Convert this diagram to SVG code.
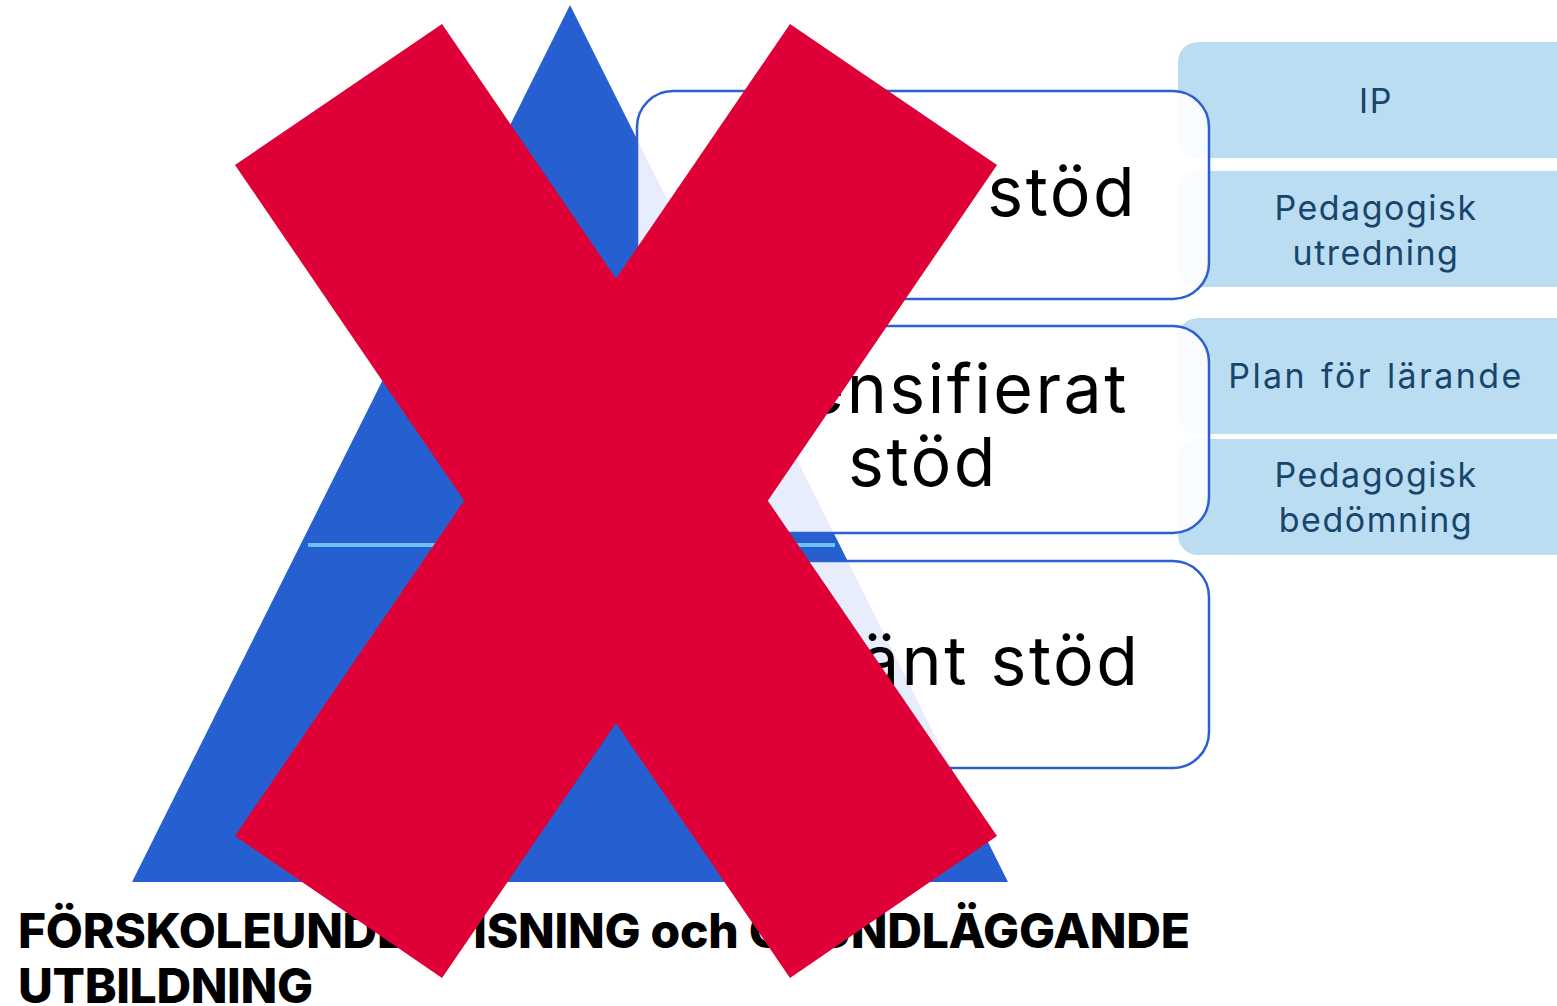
<svg xmlns="http://www.w3.org/2000/svg" width="1557" height="1006" viewBox="0 0 1557 1006">
<style>
.tri{fill:#265FCF}
.sep{stroke:#6EC1EE;stroke-width:4}
.tag{fill:#BBDDF2}
.box{fill:#FFFFFF;fill-opacity:0.89;stroke:#2C5FD0;stroke-width:2.5}
.big{font-family:Inter,"Noto Sans",sans-serif;font-size:68px;fill:#000;text-anchor:middle;letter-spacing:2.5px}
.lbl{font-family:Inter,"Noto Sans",sans-serif;font-size:34px;fill:#17456B;text-anchor:middle;letter-spacing:1.5px}
.wide{letter-spacing:2.4px;word-spacing:2px}
.title{font-family:Inter,"Liberation Sans",sans-serif;font-weight:800;font-size:48px;fill:#000}
.x{fill:#DF0037}
</style>
<rect width="1557" height="1006" fill="#FFFFFF"/>
<g id="pyramid">
<polygon class="tri" points="570,5 1008,882 132,882"/>
<line class="sep" x1="425" y1="310" x2="715" y2="310"/>
<line class="sep" x1="308" y1="545" x2="835" y2="545"/>
</g>
<g id="tags">
<g id="tag-ip"><rect class="tag" x="1178" y="42" width="420" height="116" rx="20"/><text class="lbl" x="1376" y="113">IP</text></g>
<g id="tag-utredning"><rect class="tag" x="1178" y="171" width="420" height="116" rx="20"/><text class="lbl" x="1376" y="220">Pedagogisk</text><text class="lbl" x="1376" y="265">utredning</text></g>
<g id="tag-plan"><rect class="tag" x="1178" y="318" width="420" height="116" rx="20"/><text class="lbl wide" x="1376" y="388">Plan för lärande</text></g>
<g id="tag-bedomning"><rect class="tag" x="1178" y="439" width="420" height="116" rx="20"/><text class="lbl" x="1376" y="487">Pedagogisk</text><text class="lbl" x="1376" y="532">bedömning</text></g>
</g>
<g id="level-sarskilt"><rect class="box" x="637" y="91" width="572" height="208" rx="36"/><text class="big" x="923" y="216">Särskilt stöd</text></g>
<g id="level-intensifierat"><rect class="box" x="637" y="326" width="572" height="207" rx="36"/><text class="big" x="923" y="413">Intensifierat</text><text class="big" x="923" y="486">stöd</text></g>
<g id="level-allmant"><rect class="box" x="637" y="561" width="572" height="207" rx="36"/><text class="big" x="926" y="685">Allmänt stöd</text></g>
<g id="title"><text class="title" x="18" y="948" textLength="1172">FÖRSKOLEUNDERVISNING och GRUNDLÄGGANDE</text><text class="title" x="18" y="1003" textLength="295">UTBILDNING</text></g>
<g id="cross">
<polygon class="x" points="442,24 997,836 790,978 235,165"/>
<polygon class="x" points="790,24 997,165 442,978 235,836"/>
</g>
<g id="connectors"></g>
</svg>
